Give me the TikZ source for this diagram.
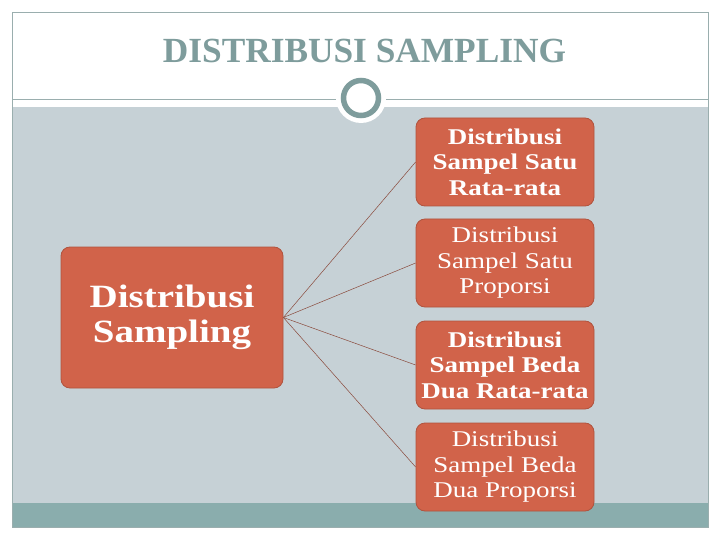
\documentclass[tikz,border=0pt]{standalone}
\usepackage{fontspec}
\setmainfont{Liberation Serif}
\newfontfamily\geo[FakeStretch=1.2]{Liberation Serif}
\definecolor{panel}{HTML}{C6D1D6}
\definecolor{band}{HTML}{8AADAD}
\definecolor{nodefill}{HTML}{D1634A}
\definecolor{nodeline}{HTML}{B0533E}
\definecolor{titlecol}{HTML}{7E9C9C}
\definecolor{framecol}{HTML}{9AAEAE}
\definecolor{linkcol}{HTML}{8A4A3C}
\tikzset{
  box/.style={draw=nodeline, line width=0.8pt, fill=nodefill, rounded corners=9pt,
    text=white, align=center, inner sep=0pt},
  rbox/.style={box, minimum width=178pt, minimum height=88pt},
  link/.style={draw=linkcol, line width=0.5pt}
}
\begin{document}
\begin{tikzpicture}[x=1pt,y=-1pt]
\useasboundingbox (0,0) rectangle (720,540);
\fill[white] (0,0) rectangle (720,540);
% panel and band
\fill[panel] (12,107) rectangle (708,503);
\fill[band] (12,503) rectangle (708,527);
\draw[framecol, line width=0.8pt] (12,12) rectangle (708,527);
\draw[framecol, line width=1pt] (12,100) -- (708,100);
% title
\node[text=titlecol, font=\bfseries\fontsize{35.3}{40}\selectfont] (title) at (364.5,50.5) {DISTRIBUSI SAMPLING};
% circle ornament
\fill[white] (361,98) circle (25);
\draw[titlecol, line width=5.5pt, fill=white] (361,98) circle (17.5);
% nodes
\node[box, minimum width=222pt, minimum height=141pt, font=\geo\bfseries\fontsize{32.5}{35}\selectfont] (main) at (172,317.5) {Distribusi\\Sampling};
\node[rbox, font=\geo\bfseries\fontsize{22.5}{25.5}\selectfont] (r1) at (505,162) {Distribusi\\Sampel Satu\\Rata-rata};
\node[rbox, font=\geo\fontsize{22.5}{25.5}\selectfont] (r2) at (505,263) {Distribusi\\Sampel Satu\\Proporsi};
\node[rbox, font=\geo\bfseries\fontsize{22.5}{25.5}\selectfont] (r3) at (505,365) {Distribusi\\Sampel Beda\\Dua Rata-rata};
\node[rbox, font=\geo\fontsize{22.5}{25.5}\selectfont] (r4) at (505,467) {Distribusi\\Sampel Beda\\Dua Proporsi};
% connectors
\foreach \t in {r1,r2,r3,r4} \draw[link] (main.east) -- (\t.west);
\end{tikzpicture}
\end{document}
